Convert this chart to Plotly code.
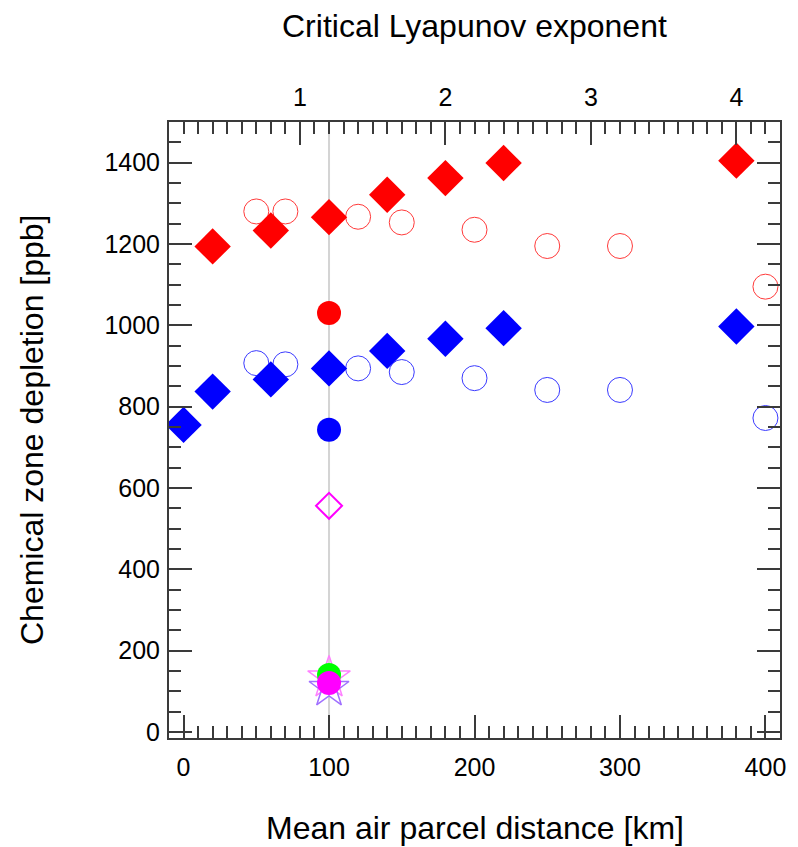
import plotly.graph_objects as go

# ---------------- data ----------------
diamond_dist_red = [20, 60, 100, 140, 180, 220, 380]
diamond_red = [1194, 1233, 1266, 1321, 1362, 1399, 1405]
diamond_dist_blue = [0, 20, 60, 100, 140, 180, 220, 380]
diamond_blue = [755, 837, 867, 894, 937, 967, 993, 997]

circle_dist = [50, 70, 120, 150, 200, 250, 300, 400]
circle_red = [1280, 1280, 1267, 1253, 1235, 1195, 1195, 1095]
circle_blue = [907, 904, 894, 885, 870, 841, 841, 772]

ref_dist = 100
ref_red_circle = 1030
ref_blue_circle = 743
ref_magenta_diamond = 556
ref_green_circle = 140
ref_magenta_circle = 120
ref_pink_star = 133
ref_purple_star = 108

lyap_offset = 0.2          # Lyapunov exponent = distance/100 + offset
x_range = [-10, 410]
y_range = [-15, 1500]

AX = "#3a3a3a"
FONT = "Liberation Sans"

fig = go.Figure()

# open circles
fig.add_trace(go.Scatter(x=circle_dist, y=circle_red, mode="markers",
                         marker=dict(symbol="circle-open", size=25, color="#ff3a3a",
                                     line=dict(width=1, color="#ff3a3a"))))
fig.add_trace(go.Scatter(x=circle_dist, y=circle_blue, mode="markers",
                         marker=dict(symbol="circle-open", size=25, color="#3a3aff",
                                     line=dict(width=1, color="#3a3aff"))))
# filled diamonds
fig.add_trace(go.Scatter(x=diamond_dist_red, y=diamond_red, mode="markers",
                         marker=dict(symbol="diamond", size=28, color="#ff0000",
                                     line=dict(width=0))))
fig.add_trace(go.Scatter(x=diamond_dist_blue, y=diamond_blue, mode="markers",
                         marker=dict(symbol="diamond", size=28, color="#0000ff",
                                     line=dict(width=0))))
# reference points at 100 km
fig.add_trace(go.Scatter(x=[ref_dist], y=[ref_red_circle], mode="markers",
                         marker=dict(symbol="circle", size=24, color="#ff0000", line=dict(width=0))))
fig.add_trace(go.Scatter(x=[ref_dist], y=[ref_blue_circle], mode="markers",
                         marker=dict(symbol="circle", size=24, color="#0000ff", line=dict(width=0))))
fig.add_trace(go.Scatter(x=[ref_dist], y=[ref_magenta_diamond], mode="markers",
                         marker=dict(symbol="diamond-open", size=20, color="#ff00ff",
                                     line=dict(width=2, color="#ff00ff"))))
fig.add_trace(go.Scatter(x=[ref_dist], y=[ref_pink_star], mode="markers",
                         marker=dict(symbol="star-open", size=32, color="#ff80ff",
                                     line=dict(width=1.5, color="#ff80ff"))))
fig.add_trace(go.Scatter(x=[ref_dist], y=[ref_purple_star], mode="markers",
                         marker=dict(symbol="star-open", size=30, color="#a070ff",
                                     line=dict(width=1.5, color="#a070ff"))))
fig.add_trace(go.Scatter(x=[ref_dist], y=[ref_green_circle], mode="markers",
                         marker=dict(symbol="circle", size=24, color="#00ff00", line=dict(width=0))))
fig.add_trace(go.Scatter(x=[ref_dist], y=[ref_magenta_circle], mode="markers",
                         marker=dict(symbol="circle", size=24, color="#ff00ff", line=dict(width=0))))
# invisible trace to activate top axis
fig.add_trace(go.Scatter(x=[ref_dist / 100 + lyap_offset], y=[ref_magenta_circle], xaxis="x2",
                         mode="markers", marker=dict(size=1, color="rgba(0,0,0,0)"),
                         hoverinfo="skip"))

# vertical reference line
fig.add_shape(type="line", xref="x", yref="paper", x0=ref_dist, x1=ref_dist, y0=0, y1=1,
              line=dict(color="#d4d4d4", width=2), layer="below")

tickfont = dict(family=FONT, size=25, color="black")
titlefont = dict(family=FONT, size=32, color="black")

fig.update_layout(
    width=798, height=847,
    margin=dict(l=169, r=13, t=122, b=109),
    paper_bgcolor="white", plot_bgcolor="white",
    showlegend=False,
    xaxis=dict(range=x_range, showgrid=False, zeroline=False,
               showline=True, linecolor=AX, linewidth=2, mirror=False,
               ticks="inside", ticklen=23, tickwidth=1.5, tickcolor=AX,
               tick0=0, dtick=100, tickfont=tickfont, ticklabelstandoff=6,
               minor=dict(ticks="inside", ticklen=12, tickwidth=1.5, tickcolor=AX, dtick=10, showgrid=False)),
    xaxis2=dict(range=[x_range[0] / 100 + lyap_offset, x_range[1] / 100 + lyap_offset],
                overlaying="x", side="top", showgrid=False, zeroline=False,
                showline=True, linecolor=AX, linewidth=2,
                ticks="inside", ticklen=23, tickwidth=1.5, tickcolor=AX,
                tick0=0, dtick=1, tickfont=tickfont, ticklabelstandoff=4,
                minor=dict(ticks="inside", ticklen=12, tickwidth=1.5, tickcolor=AX, dtick=0.1, showgrid=False)),
    yaxis=dict(range=y_range, showgrid=False, zeroline=False,
               showline=True, linecolor=AX, linewidth=2, mirror="ticks",
               ticks="inside", ticklen=23, tickwidth=1.5, tickcolor=AX,
               tick0=0, dtick=200, tickfont=tickfont, ticklabelstandoff=2,
               minor=dict(ticks="inside", ticklen=12, tickwidth=1.5, tickcolor=AX, dtick=50, showgrid=False)),
    annotations=[
        dict(text="Critical Lyapunov exponent", xref="paper", yref="paper", x=0.5, y=1,
             yshift=96, showarrow=False, xanchor="center", yanchor="middle",
             font=titlefont),
        dict(text="Mean air parcel distance [km]", xref="paper", yref="paper", x=0.5, y=0,
             yshift=-90, showarrow=False, xanchor="center", yanchor="middle",
             font=titlefont),
        dict(text="Chemical zone depletion [ppb]", xref="paper", yref="paper", x=0, y=0.5,
             xshift=-137, showarrow=False, xanchor="center", yanchor="middle", textangle=-90,
             font=titlefont),
    ],
)

fig.write_html("out.html")
